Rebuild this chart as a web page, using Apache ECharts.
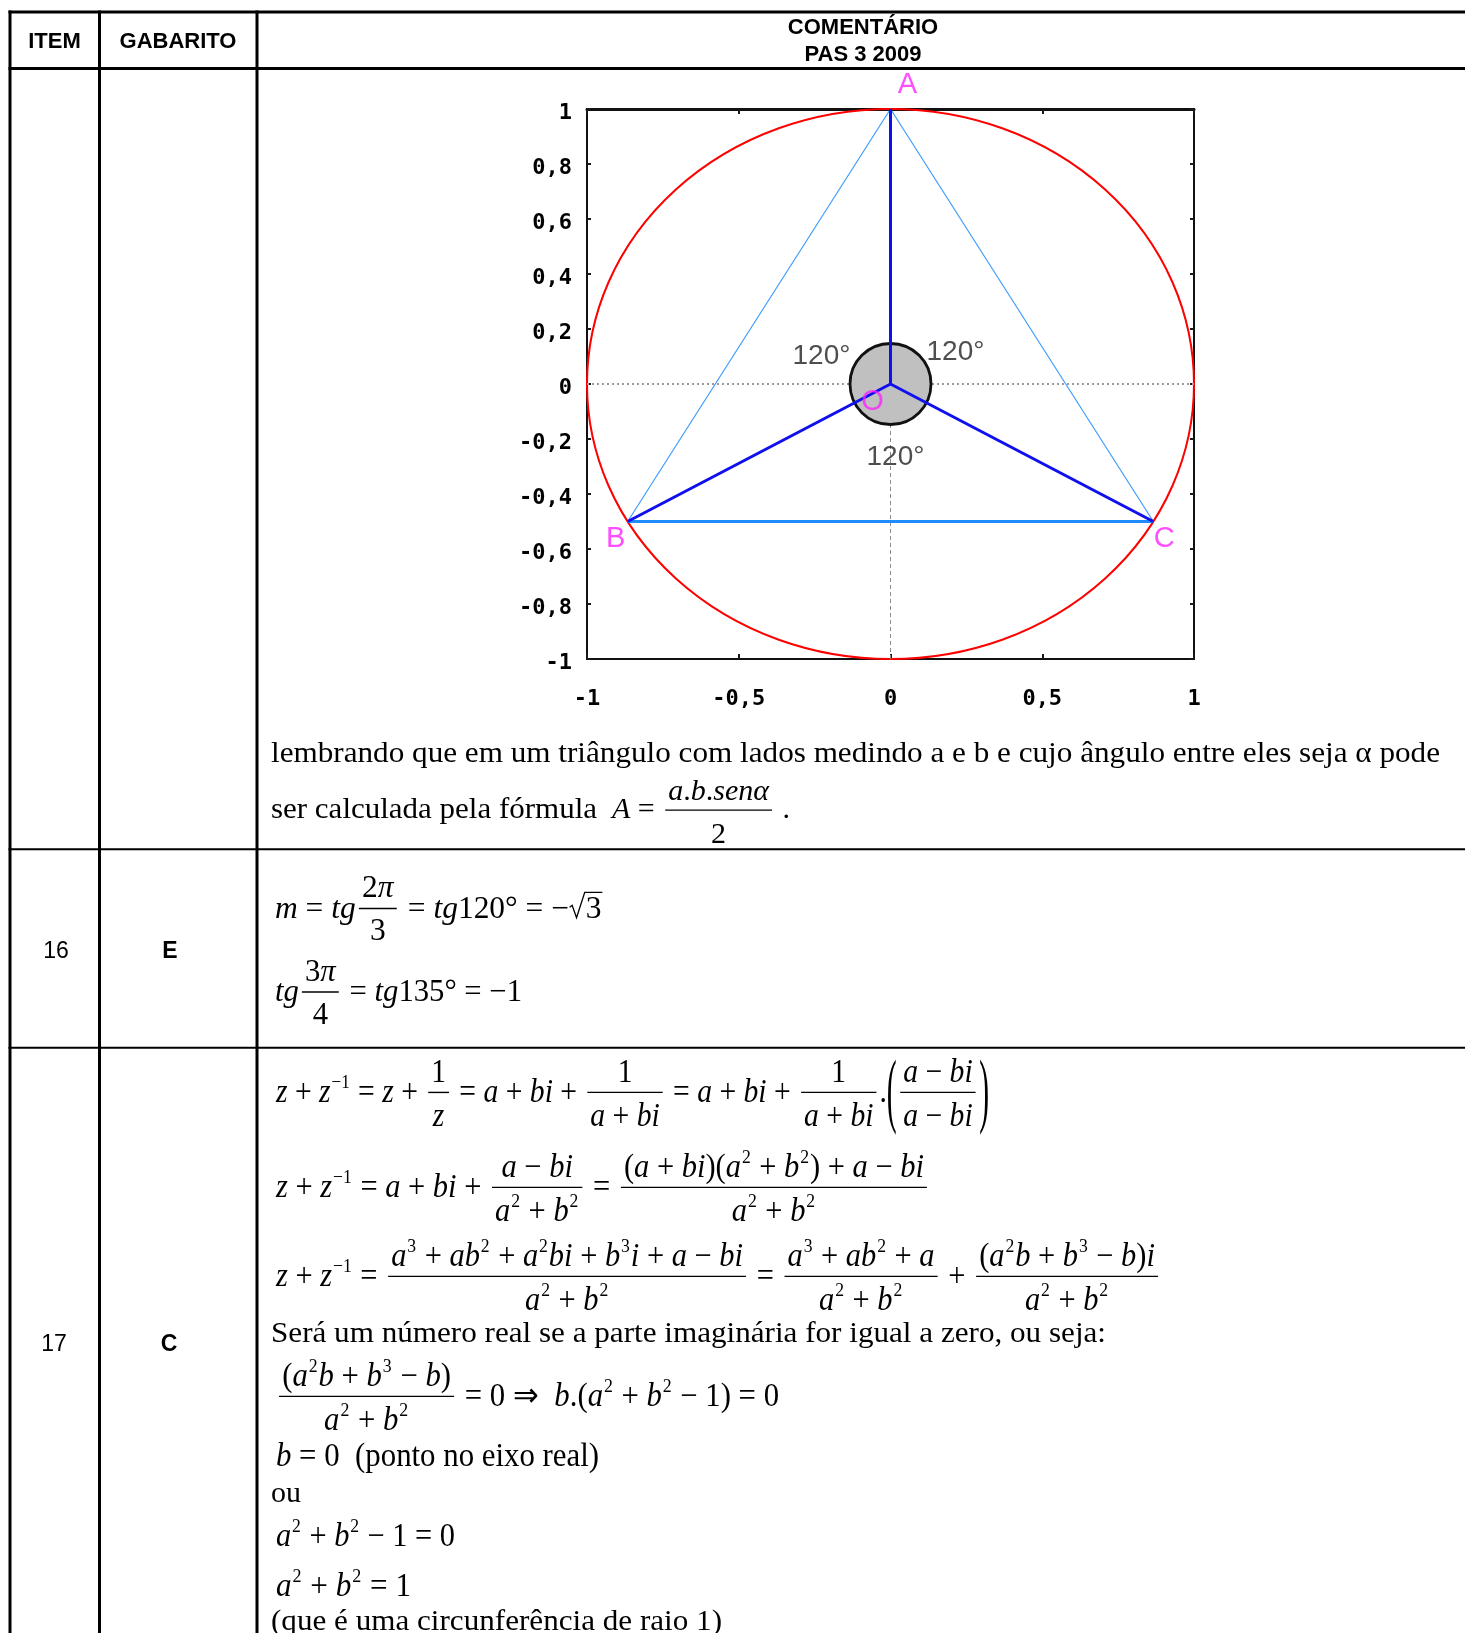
<!DOCTYPE html>
<html>
<head>
<meta charset="utf-8">
<script src="https://cdn.jsdelivr.net/npm/echarts@6/dist/echarts.min.js"></script>
<style>
html,body{margin:0;padding:0;background:#fff;}
#main{width:1465px;height:1633px;}
</style>
</head>
<body>
<div id="main"></div>
<script>
// ================= DATA =================
const vertexNames = ['A', 'B', 'C'];
const vertexX = [0, -0.866, 0.866];
const vertexY = [1, -0.5, -0.5];
const centerName = 'O';
const centerPoint = [0, 0];
const circleRadius = 1;
const angleLabels = ['120°', '120°', '120°'];
const xTickValues = [-1, -0.5, 0, 0.5, 1];
const xTickLabels = ['-1', '-0,5', '0', '0,5', '1'];
const yTickValues = [-1, -0.8, -0.6, -0.4, -0.2, 0, 0.2, 0.4, 0.6, 0.8, 1];
const yTickLabels = ['-1', '-0,8', '-0,6', '-0,4', '-0,2', '0', '0,2', '0,4', '0,6', '0,8', '1'];

const headerLabels = ['ITEM', 'GABARITO', 'COMENTÁRIO', 'PAS 3 2009'];
const itemNumbers = ['16', '17'];
const answerKeys = ['E', 'C'];

const row1Text = [
  'lembrando que em um triângulo com lados medindo a e b e cujo ângulo entre eles seja α pode',
  'ser calculada pela fórmula'
];
const row1Formula = 'A = #f{a.b.senα}{2}#r{ .}';
const row2Formulas = [
  'm = tg#f{2π}{3} = tg120° = −#s{3}',
  'tg#f{3π}{4} = tg135° = −1'
];
const row3Formulas = [
  'z + z^{−1} = z + #f{1}{z} = a + bi + #f{1}{a + bi} = a + bi + #f{1}{a + bi}.#P{#f{a − bi}{a − bi}}',
  'z + z^{−1} = a + bi + #f{a − bi}{a^{2} + b^{2}} = #f{(a + bi)(a^{2} + b^{2}) + a − bi}{a^{2} + b^{2}}',
  'z + z^{−1} = #f{a^{3} + ab^{2} + a^{2}bi + b^{3}i + a − bi}{a^{2} + b^{2}} = #f{a^{3} + ab^{2} + a}{a^{2} + b^{2}} + #f{(a^{2}b + b^{3} − b)i}{a^{2} + b^{2}}'
];
const row3Sentence = 'Será um número real se a parte imaginária for igual a zero, ou seja:';
const row3Formulas2 = [
  '#f{(a^{2}b + b^{3} − b)}{a^{2} + b^{2}} = 0 ⇒  b.(a^{2} + b^{2} − 1) = 0',
  'b = 0 #r{ (ponto no eixo real)}'
];
const row3Or = 'ou';
const row3Formulas3 = ['a^{2} + b^{2} − 1 = 0', 'a^{2} + b^{2} = 1'];
const row3Closing = '(que é uma circunferência de raio 1)';

// ================= TEXT / MATH LAYOUT HELPERS =================
const SERIF = '"Liberation Serif","Times New Roman",serif';
const SANS = '"Liberation Sans",Arial,sans-serif';
const MONO = '"DejaVu Sans Mono",monospace';
const MID = 0.23;
const mctx = document.createElement('canvas').getContext('2d');
function fnt(size, it) { return (it ? 'italic ' : '') + size.toFixed(2) + 'px ' + SERIF; }
function tw(s, f) { mctx.font = f; return mctx.measureText(s).width; }

function parse(src, roman) {
  const out = []; let i = 0;
  function grp() {
    let d = 0; const st = i + 1;
    for (; i < src.length; i++) {
      const c = src[i];
      if (c === '{') d++;
      else if (c === '}') { d--; if (d === 0) { const s = src.slice(st, i); i++; return s; } }
    }
    return '';
  }
  while (i < src.length) {
    const c = src[i];
    if (c === '#') {
      const cmd = src[i + 1]; i += 2;
      if (cmd === 'f') { const a = grp(); const b = grp(); out.push({ t: 'frac', num: parse(a, roman), den: parse(b, roman) }); }
      else if (cmd === 'P') out.push({ t: 'paren', body: parse(grp(), roman) });
      else if (cmd === 's') out.push({ t: 'sqrt', body: parse(grp(), roman) });
      else if (cmd === 'r') out.push(...parse(grp(), true));
    } else if (c === '^') { i++; out.push({ t: 'sup', body: parse(grp(), roman) }); }
    else { out.push({ t: 'ch', c: c, it: !roman && /[A-Za-z\u03b1-\u03c9]/.test(c) }); i++; }
  }
  return out;
}
function shift(dst, src, dx, dy) {
  for (const it of src) {
    const c = Object.assign({}, it);
    if (c.kind === 'line') { c.x1 += dx; c.x2 += dx; c.y1 += dy; c.y2 += dy; }
    else if (c.kind === 'poly') { c.pts = c.pts.map(p => [p[0] + dx, p[1] + dy]); }
    else { c.x += dx; if (c.y !== undefined) c.y += dy; if (c.cy !== undefined) c.cy += dy; }
    dst.push(c);
  }
}
function lay(nodes, s, o) {
  const items = []; let x = 0, asc = 0.7 * s, desc = 0.22 * s; let k = 0;
  while (k < nodes.length) {
    const n = nodes[k];
    if (n.t === 'ch') {
      let run = ''; const it = n.it;
      while (k < nodes.length && nodes[k].t === 'ch' && nodes[k].it === it) { run += nodes[k].c; k++; }
      const f = fnt(s, it);
      items.push({ kind: 'text', x: x, y: 0, str: run, font: f, size: s });
      x += tw(run, f);
      continue;
    }
    if (n.t === 'sup') {
      const b = lay(n.body, s * 0.58, o); const dy = -o.sup * s;
      shift(items, b.items, x + 0.03 * s, dy);
      x += b.w + 0.06 * s; asc = Math.max(asc, -dy + b.asc);
    } else if (n.t === 'frac') {
      const a = lay(n.num, s, o), d = lay(n.den, s, o);
      const inner = Math.max(a.w, d.w) + 0.2 * s; const gap = 0.1 * s;
      const bar = -o.bar * s; const nb = bar - o.numUp * s; const db = bar + o.denDown * s;
      x += gap;
      shift(items, a.items, x + (inner - a.w) / 2, nb);
      shift(items, d.items, x + (inner - d.w) / 2, db);
      items.push({ kind: 'line', x1: x, x2: x + inner, y1: bar, y2: bar, lw: 1.4 });
      x += inner + gap;
      asc = Math.max(asc, -nb + a.asc); desc = Math.max(desc, db + d.desc);
    } else if (n.t === 'paren') {
      const b = lay(n.body, s, o);
      const top = -b.asc, bot = b.desc; const h = bot - top; const cy = (top + bot) / 2;
      const f = fnt(s, false); const pw = tw('(', f);
      const sy = h / (0.9 * s);
      items.push({ kind: 'paren', x: x, cy: cy, str: '(', font: f, size: s, sy: sy });
      x += pw + 0.02 * s;
      shift(items, b.items, x, 0);
      x += b.w + 0.02 * s;
      items.push({ kind: 'paren', x: x, cy: cy, str: ')', font: f, size: s, sy: sy });
      x += pw;
      asc = Math.max(asc, -top); desc = Math.max(desc, bot);
    } else if (n.t === 'sqrt') {
      const b = lay(n.body, s, o); const rw = 0.5 * s; const top = -0.78 * s;
      items.push({ kind: 'poly', lw: 1.3, pts: [[x + 0.02 * s, -0.3 * s], [x + 0.1 * s, -0.36 * s], [x + 0.24 * s, 0.04 * s], [x + rw, top], [x + rw + b.w + 0.06 * s, top]] });
      shift(items, b.items, x + rw + 0.03 * s, 0);
      x += rw + b.w + 0.08 * s;
    }
    k++;
  }
  return { w: x, asc: asc, desc: desc, items: items };
}
function emit(items, by) {
  return items.map(it => {
    if (it.kind === 'text') return { type: 'text', x: it.x, y: by + it.y - MID * it.size, style: { text: it.str, font: it.font, fill: '#000', textAlign: 'left', textVerticalAlign: 'middle' } };
    if (it.kind === 'line') return { type: 'line', shape: { x1: it.x1, y1: by + it.y1, x2: it.x2, y2: by + it.y2 }, style: { stroke: '#000', lineWidth: it.lw } };
    if (it.kind === 'poly') return { type: 'polyline', shape: { points: it.pts.map(p => [p[0], by + p[1]]) }, style: { stroke: '#000', lineWidth: it.lw, fill: 'none' } };
    return { type: 'group', x: it.x, y: by + it.cy, scaleY: it.sy, children: [{ type: 'text', x: 0, y: 0, style: { text: it.str, font: it.font, fill: '#000', textAlign: 'left', textVerticalAlign: 'middle' } }] };
  });
}
const G = [];
const DEF = { bar: 0.26, numUp: 0.42, denDown: 1.04, sup: 0.42 };
function mathLine(src, s, left, base, right, opt) {
  const o = Object.assign({}, DEF, opt || {});
  const b = lay(parse(src, false), s, o);
  const sx = right ? (right - left) / b.w : 1;
  G.push({ type: 'group', x: left, y: 0, scaleX: sx, children: emit(b.items, base) });
}
function textLine(str, s, left, base, right) { mathLine('#r{' + str + '}', s, left, base, right); }
function hline(y, x1, x2, lw) { G.push({ type: 'line', shape: { x1: x1, y1: y, x2: x2, y2: y }, style: { stroke: '#000', lineWidth: lw } }); }
function vline(x, y1, y2, lw) { G.push({ type: 'line', shape: { x1: x, y1: y1, x2: x, y2: y2 }, style: { stroke: '#000', lineWidth: lw } }); }
function cellText(str, x, y, font) { G.push({ type: 'text', x: x, y: y, style: { text: str, font: font, fill: '#000', textAlign: 'center', textVerticalAlign: 'middle' } }); }

// ================= TABLE =================
hline(12, 8.5, 1465, 3);
hline(68.5, 8.5, 1465, 3);
hline(849.3, 8.5, 1465, 2);
hline(1047.7, 8.5, 1465, 2);
vline(10, 10.5, 1633, 3);
vline(99.5, 10.5, 1633, 3);
vline(257, 10.5, 1633, 3);

const HF = 'bold 22px ' + SANS;
cellText(headerLabels[0], 54.5, 42, HF);
cellText(headerLabels[1], 178, 42, HF);
cellText(headerLabels[2], 863, 28, HF);
cellText(headerLabels[3], 863, 55, HF);
cellText(itemNumbers[0], 56, 952, '23px ' + SANS);
cellText(answerKeys[0], 170, 952, 'bold 23px ' + SANS);
cellText(itemNumbers[1], 54, 1345, '23px ' + SANS);
cellText(answerKeys[1], 169, 1345, 'bold 23px ' + SANS);

// row 1 text
textLine(row1Text[0], 30, 271, 761.5, 1440);
textLine(row1Text[1], 30, 271, 817, 597);
mathLine(row1Formula, 30, 612, 817, null, { bar: 0.23, numUp: 0.38, denDown: 1.06 });
// row 2
mathLine(row2Formulas[0], 31, 275, 916.5, 603, { numUp: 0.4, denDown: 1.0 });
mathLine(row2Formulas[1], 31, 275, 1000, 522, { numUp: 0.4, denDown: 1.0 });
// row 3
const R3 = { numUp: 0.34, denDown: 0.98 };
mathLine(row3Formulas[0], 33, 276, 1101, 989, R3);
mathLine(row3Formulas[1], 33, 276, 1196, 930, R3);
mathLine(row3Formulas[2], 33, 276, 1285, 1161, R3);
textLine(row3Sentence, 30, 271, 1341, 1106);
mathLine(row3Formulas2[0], 33, 276, 1405, 779, R3);
mathLine(row3Formulas2[1], 33, 276, 1465, 599);
textLine(row3Or, 30, 271, 1501, null);
mathLine(row3Formulas3[0], 33, 276, 1545, 455);
mathLine(row3Formulas3[1], 33, 276, 1595, 411);
textLine(row3Closing, 30, 271, 1629, 722);

// ================= CHART =================
const P = i => [vertexX[i], vertexY[i]];
function tickFmt(values, labels) {
  return v => { const i = values.findIndex(t => Math.abs(t - v) < 1e-6); return i >= 0 ? labels[i] : ''; };
}
const tickStyle = { show: true, inside: true, length: 5, lineStyle: { color: '#1a1a1a', width: 2 } };
const noLine = { show: false, onZero: false };
const labelFont = { fontFamily: MONO, fontWeight: 'bold', fontSize: 22, color: '#000' };

const vertexLabelOffsets = [[17, -24], [-12, 17], [11, 17]];
const angleLabelOffsets = [[-69, -28], [65, -32], [5, 73]];

const chart = echarts.init(document.getElementById('main'), null, { renderer: 'canvas' });
chart.setOption({
  animation: false,
  backgroundColor: '#fff',
  tooltip: { show: false },
  grid: { left: 587, top: 109, width: 607, height: 550, show: true, borderColor: '#111', borderWidth: 2, backgroundColor: 'transparent' },
  xAxis: [
    { type: 'value', min: -1, max: 1, interval: 0.5, position: 'bottom', axisLine: noLine, splitLine: { show: false }, axisTick: tickStyle,
      axisLabel: Object.assign({ margin: 29, formatter: tickFmt(xTickValues, xTickLabels) }, labelFont) },
    { type: 'value', min: -1, max: 1, interval: 0.5, position: 'top', axisLine: { show: true, onZero: false, lineStyle: { color: '#111', width: 3 } }, splitLine: { show: false }, axisTick: tickStyle, axisLabel: { show: false } }
  ],
  yAxis: [
    { type: 'value', min: -1, max: 1, interval: 0.2, position: 'left', axisLine: noLine, splitLine: { show: false }, axisTick: Object.assign({}, tickStyle, { length: 4 }),
      axisLabel: Object.assign({ margin: 15, verticalAlign: 'top', lineHeight: 8, formatter: tickFmt(yTickValues, yTickLabels) }, labelFont) },
    { type: 'value', min: -1, max: 1, interval: 0.2, position: 'right', axisLine: noLine, splitLine: { show: false }, axisTick: Object.assign({}, tickStyle, { length: 4 }), axisLabel: { show: false } }
  ],
  graphic: G,
  series: [
    { type: 'custom', silent: true, z: 1, clip: false,
      data: [[centerPoint[0], centerPoint[1], circleRadius]],
      renderItem: function (params, api) {
        const c = api.coord([api.value(0), api.value(1)]);
        const sz = api.size([api.value(2), api.value(2)]);
        const rx = sz[0], ry = sz[1];
        return { type: 'path',
          shape: { pathData: 'M' + (c[0] - rx) + ' ' + c[1] + ' A' + rx + ' ' + ry + ' 0 1 0 ' + (c[0] + rx) + ' ' + c[1] + ' A' + rx + ' ' + ry + ' 0 1 0 ' + (c[0] - rx) + ' ' + c[1] + ' Z' },
          style: { fill: 'none', stroke: '#ff0000', lineWidth: 2 } };
      } },
    { type: 'line', silent: true, z: 2, symbol: 'none',
      data: [[xTickValues[0], centerPoint[1]], [xTickValues[xTickValues.length - 1], centerPoint[1]]],
      lineStyle: { color: '#9a9a9a', width: 2, type: [2, 3] } },
    { type: 'line', silent: true, z: 2, symbol: 'none',
      data: [[centerPoint[0], yTickValues[0]], centerPoint],
      lineStyle: { color: '#8c8c8c', width: 1, type: [4, 3] } },
    { type: 'line', silent: true, z: 3, symbol: 'none', data: [P(1), P(0), P(2)], lineStyle: { color: '#3d9dff', width: 1.2 } },
    { type: 'line', silent: true, z: 3, symbol: 'none', data: [P(1), P(2)], lineStyle: { color: '#1e8cff', width: 3 } },
    { type: 'scatter', silent: true, z: 4, data: [centerPoint], symbolSize: 81,
      itemStyle: { color: '#c0c0c0', borderColor: '#111', borderWidth: 2.8, opacity: 1 } },
    { type: 'line', silent: true, z: 5, symbol: 'none', data: [P(0), centerPoint, P(1)], lineStyle: { color: '#1010ee', width: 3 } },
    { type: 'line', silent: true, z: 5, symbol: 'none', data: [centerPoint, P(2)], lineStyle: { color: '#1010ee', width: 3 } },
    { type: 'scatter', silent: true, z: 6, symbolSize: 1, itemStyle: { color: 'transparent' },
      label: { show: true, position: 'inside', formatter: '{b}', color: '#ff22ff', fontSize: 29, fontFamily: SANS },
      data: vertexNames.map((nm, i) => ({ name: nm, value: P(i), label: { offset: vertexLabelOffsets[i] } }))
        .concat([{ name: centerName, value: centerPoint, label: { offset: [-18, 18] } }]) },
    { type: 'scatter', silent: true, z: 6, symbolSize: 1, itemStyle: { color: 'transparent' },
      label: { show: true, position: 'inside', formatter: '{b}', color: '#222', fontSize: 28, fontFamily: SANS },
      data: angleLabels.map((t, i) => ({ name: t, value: centerPoint, label: { offset: angleLabelOffsets[i] } })) }
  ]
});
</script>
</body>
</html>
